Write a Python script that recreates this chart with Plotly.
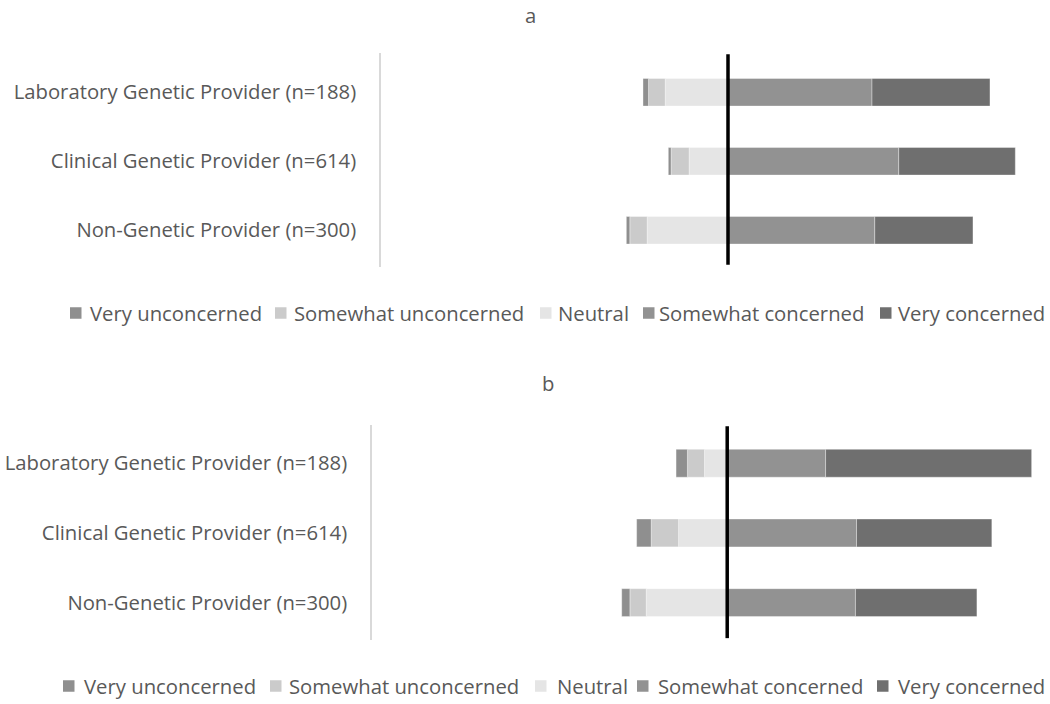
import plotly.graph_objects as go

categories = ["Laboratory Genetic Provider (n=188)",
              "Clinical Genetic Provider (n=614)",
              "Non-Genetic Provider (n=300)"]
levels = ["Very unconcerned", "Somewhat unconcerned", "Neutral",
          "Somewhat concerned", "Very concerned"]

# panel a (percent of respondents)
a_very_unconcerned = [1.6, 0.8, 1.0]
a_somewhat_unconcerned = [4.8, 5.2, 5.0]
a_neutral = [18.1, 11.2, 23.3]
a_somewhat_concerned = [41.5, 49.2, 42.3]
a_very_concerned = [34.0, 33.6, 28.3]

# panel b (percent of respondents)
b_very_unconcerned = [3.2, 4.1, 2.3]
b_somewhat_unconcerned = [4.8, 7.7, 4.6]
b_neutral = [6.4, 13.7, 22.8]
b_somewhat_concerned = [27.7, 36.4, 36.1]
b_very_concerned = [58.0, 38.1, 34.2]

colors = {"Very unconcerned": "#8f8f8f", "Somewhat unconcerned": "#cbcbcb",
          "Neutral": "#e5e5e5", "Somewhat concerned": "#929292",
          "Very concerned": "#6f6f6f"}
FONT = "Open Sans"
TXT = "#595959"
FS = 20.3

W, H = 1050, 704
fig = go.Figure()


def add_panel(vals, xa, ya):
    vu, su, ne, sc, vc = vals
    # negative side stacks from zero outward: Neutral, Somewhat unc., Very unc.
    order = [("Neutral", ne, -1), ("Somewhat unconcerned", su, -1),
             ("Very unconcerned", vu, -1),
             ("Somewhat concerned", sc, 1), ("Very concerned", vc, 1)]
    for name, v, sign in order:
        fig.add_trace(go.Bar(
            y=categories, x=[sign * t for t in v], name=name, orientation="h",
            marker=dict(color=colors[name],
                        line=dict(width=0.6, color="rgba(255,255,255,0.6)")),
            xaxis=xa, yaxis=ya, showlegend=False,
            hovertemplate="%{y}<br>" + name + ": %{customdata}%<extra></extra>",
            customdata=v,
        ))


add_panel([a_very_unconcerned, a_somewhat_unconcerned, a_neutral,
           a_somewhat_concerned, a_very_concerned], "x", "y")
add_panel([b_very_unconcerned, b_somewhat_unconcerned, b_neutral,
           b_somewhat_concerned, b_very_concerned], "x2", "y2")

xa_dom = [381 / W, 1040.3 / W]
xb_dom = [372 / W, 1046.9 / W]
ya_dom = [1 - 266.5 / H, 1 - 52.6 / H]
yb_dom = [1 - 639.9 / H, 1 - 424.6 / H]

yaxis_common = dict(type="category", categoryorder="array",
                    categoryarray=categories[::-1], showline=True,
                    linecolor="#d9d9d9", linewidth=1.5, showgrid=False,
                    ticks="", ticklabelstandoff=19, zeroline=False,
                    tickfont=dict(family=FONT, size=FS, color=TXT))

# manual legends (Excel style: small square + text)
legend_a_marker_x = [70, 275, 540, 643, 880]
legend_a_text_x = [88, 292, 556, 657, 896]
legend_b_marker_x = [63, 270, 535, 637, 877]
legend_b_text_x = [82, 287, 555, 656, 896]

shapes = [
    dict(type="line", xref="x", yref="y", x0=0, x1=0, y0=-0.5, y1=2.55,
         line=dict(color="black", width=3.5)),
    dict(type="line", xref="x2", yref="y2", x0=0, x1=0, y0=-0.51, y1=2.53,
         line=dict(color="black", width=3.5)),
]
annotations = [
    dict(text="a", x=530 / W, y=1 - 15 / H, xref="paper", yref="paper",
         yanchor="middle", showarrow=False,
         font=dict(family=FONT, size=FS, color=TXT)),
    dict(text="b", x=548 / W, y=1 - 383 / H, xref="paper", yref="paper",
         yanchor="middle", showarrow=False,
         font=dict(family=FONT, size=FS, color=TXT)),
]
for mxs, txs, yc in [(legend_a_marker_x, legend_a_text_x, 313),
                     (legend_b_marker_x, legend_b_text_x, 686)]:
    for name, mx, tx in zip(levels, mxs, txs):
        shapes.append(dict(type="rect", xref="paper", yref="paper",
                           x0=mx / W, x1=(mx + 11.5) / W,
                           y0=1 - (yc + 5.75) / H, y1=1 - (yc - 5.75) / H,
                           fillcolor=colors[name], line=dict(width=0)))
        annotations.append(dict(text=name, x=tx / W, y=1 - yc / H,
                                xref="paper", yref="paper", xanchor="left",
                                yanchor="middle", showarrow=False,
                                font=dict(family=FONT, size=FS, color=TXT)))

fig.update_layout(
    width=W, height=H, margin=dict(l=0, r=0, t=0, b=0),
    paper_bgcolor="white", plot_bgcolor="white",
    barmode="relative", bargap=0.6,
    font=dict(family=FONT, color=TXT),
    xaxis=dict(domain=xa_dom, range=[-100, 90], visible=False, anchor="y"),
    xaxis2=dict(domain=xb_dom, range=[-100, 90], visible=False, anchor="y2"),
    yaxis=dict(domain=ya_dom, anchor="x", **yaxis_common),
    yaxis2=dict(domain=yb_dom, anchor="x2", **yaxis_common),
    showlegend=False,
    annotations=annotations,
    shapes=shapes,
)

fig.write_html("out.html", config={"displayModeBar": False},
               post_script="document.body.style.margin='0';document.body.style.overflow='hidden';")
